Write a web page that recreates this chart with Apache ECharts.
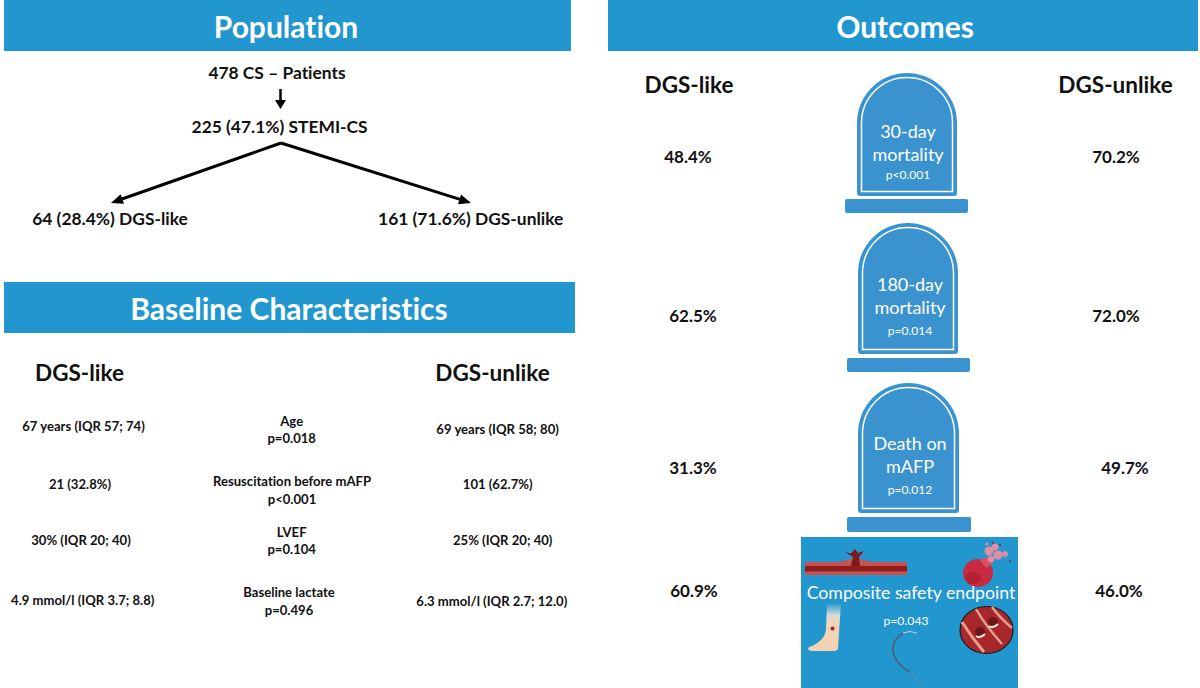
<!DOCTYPE html>
<html>
<head>
<meta charset="utf-8">
<style>html,body{margin:0;padding:0;background:#fff}#chart{width:1200px;height:688px;font-variant-ligatures:none}</style>
<script src="https://cdn.jsdelivr.net/npm/echarts@6/dist/echarts.min.js"></script>
</head>
<body>
<div id="chart"></div>
<script>
// texts
const panelTitles = ['Population', 'Baseline Characteristics', 'Outcomes']
const flowLabels = ['478 CS – Patients', '225 (47.1%) STEMI-CS', '64 (28.4%) DGS-like', '161 (71.6%) DGS-unlike']
const groupNames = ['DGS-like', 'DGS-unlike']

const baselineLike = ['67 years (IQR 57; 74)', '21 (32.8%)', '30% (IQR 20; 40)', '4.9 mmol/l (IQR 3.7; 8.8)']
const baselineVars = ['Age', 'Resuscitation before mAFP', 'LVEF', 'Baseline lactate']
const baselineP = ['p=0.018', 'p<0.001', 'p=0.104', 'p=0.496']
const baselineUnlike = ['69 years (IQR 58; 80)', '101 (62.7%)', '25% (IQR 20; 40)', '6.3 mmol/l (IQR 2.7; 12.0)']

const outcomeNames = [['30-day', 'mortality'], ['180-day', 'mortality'], ['Death on', 'mAFP']]
const outcomeP = ['p<0.001', 'p=0.014', 'p=0.012']
const outcomeLike = ['48.4%', '62.5%', '31.3%', '60.9%']
const outcomeUnlike = ['70.2%', '72.0%', '49.7%', '46.0%']
const compositeName = 'Composite safety endpoint'
const compositeP = 'p=0.043'

const BLUE = '#2196cf'
const STONE = '#3a93cf'
const FONT = 'Lato'

const chart = echarts.init(document.getElementById('chart'), null, { renderer: 'svg' })

const txt = (x, y, text, size, opt = {}) => ({
  type: 'text',
  x,
  y: y - 0.5, // svg text sits a bit low
  style: {
    text,
    fontFamily: FONT,
    fontSize: size,
    fontWeight: opt.weight || 'bold',
    fill: opt.fill || '#111',
    align: opt.align || 'center',
    verticalAlign: 'middle'
  }
})
const rect = (x, y, w, h, fill, r = 0) => ({
  type: 'rect',
  shape: { x, y, width: w, height: h, r },
  style: { fill }
})
const line = (x1, y1, x2, y2, w = 3) => ({
  type: 'line',
  shape: { x1, y1, x2, y2 },
  style: { stroke: '#000', lineWidth: w }
})
const tri = (pts) => ({ type: 'polygon', shape: { points: pts }, style: { fill: '#000' } })
const p = (d, fill, extra = {}) => ({ type: 'path', shape: { pathData: d }, style: Object.assign({ fill }, extra) })
const dot = (cx, cy, r, fill) => ({ type: 'circle', shape: { cx, cy, r }, style: { fill } })
const stroke = (d, color, w) => p(d, 'none', { stroke: color, lineWidth: w })

// grabstein mit bogen oben
const tombstone = (x0, x1, top, bottom, bx0, bx1, by0, by1) => {
  const r = (x1 - x0) / 2
  const i = 4.5
  const outer = `M${x0} ${bottom - 3} L${x0} ${top + r} A${r} ${r} 0 0 1 ${x1} ${top + r} L${x1} ${bottom - 3} Q${x1} ${bottom} ${x1 - 3} ${bottom} L${x0 + 3} ${bottom} Q${x0} ${bottom} ${x0} ${bottom - 3} Z`
  const ri = r - i
  const inner = `M${x0 + i} ${bottom - i} L${x0 + i} ${top + r} A${ri} ${ri} 0 0 1 ${x1 - i} ${top + r} L${x1 - i} ${bottom - i} Z`
  return [
    p(outer, STONE),
    p(inner, 'none', { stroke: '#fff', lineWidth: 1.5 }),
    rect(bx0, by0, bx1 - bx0, by1 - by0, STONE, 2)
  ]
}

const legFade = new echarts.graphic.LinearGradient(0, 0, 0, 1, [
  { offset: 0, color: '#2196cf' },
  { offset: 0.25, color: '#d3dcd8' },
  { offset: 0.4, color: '#f2d6bb' },
  { offset: 1, color: '#f2d2b0' }
])

const compositeIcons = () => [
  // gefaess mit blutung
  p('M805 562 L838 562 Q848 560 855 558 Q864 560 872 562 L907 562 L907 575 L805 575 Z', '#c9524f'),
  rect(805, 566, 102, 5.5, '#8e1c1c'),
  p('M851 566 L853 557 L845 552 L851 553.5 L855 549 L858 553 L864 551 L859 557 L860 566 Z', '#7c1a1a'),
  // geplatzter ballon
  { type: 'ellipse', shape: { cx: 978, cy: 573, rx: 15, ry: 14 }, style: { fill: '#c92a42' } },
  { type: 'ellipse', shape: { cx: 973, cy: 578, rx: 8, ry: 6 }, style: { fill: '#b3202f' } },
  p('M980 560 L988 557 L993 563 L986 568 Z', '#d8536a'),
  dot(989, 551, 4.5, '#e08ea0'),
  dot(995, 547, 3.5, '#e08ea0'),
  dot(998, 555, 4.5, '#e08ea0'),
  dot(991, 559, 3.5, '#e08ea0'),
  dot(1005, 554, 3, '#e08ea0'),
  dot(987, 544, 1.5, '#e08ea0'),
  dot(993, 543, 1, '#7c2a4a'),
  dot(1000, 545, 1, '#7c2a4a'),
  dot(1010, 561, 1, '#7c2a4a'),
  // bein
  p('M827 603 L841 603 L838 648 Q838 651 834 651 L812 651 Q806 650 809 647 Q824 642 826 630 Z', legFade),
  dot(832.5, 628.5, 2, '#b01f2a'),
  // draht
  stroke('M917 633 Q910 630 903 633', '#c3d3dc', 1),
  stroke('M903 633 Q890 642 894 655 Q898 666 910 672', '#4b5f6e', 1.6),
  stroke('M910 672 L923 686', '#6f93a8', 1),
  // gefaess querschnitt
  { type: 'ellipse', shape: { cx: 986.5, cy: 630, rx: 26.5, ry: 23.5 }, style: { fill: '#a8272a', stroke: '#1a1a1a', lineWidth: 1.2 } },
  stroke('M962 622 Q972 638 984 652', '#e3a08f', 3),
  stroke('M976 609 Q985 625 1002 644', '#e3a08f', 2.5),
  stroke('M992 607 Q1000 618 1012 628', '#e3a08f', 2.5),
  dot(980, 632, 5, '#6e1518'),
  dot(993, 622, 5, '#6e1518'),
  stroke('M976 636 Q980 639 985 634', '#f2e6dc', 2),
  stroke('M989 626 Q993 629 998 624', '#f2e6dc', 2)
]

const stones = [
  [857, 957, 73, 196, 845, 968, 199, 213],
  [858, 958, 223, 354, 847, 970, 358, 372],
  [858, 959, 383, 513, 847, 971, 517, 532]
]
const stoneTextX = [908, 910, 910]
const stoneTextY = [[131, 154, 175], [284, 307, 331], [443, 466, 490]]
const baseRowY = [[426, 421, 438, 429], [484, 481, 499, 484], [540, 532, 549, 540], [600, 592, 610, 601]]
const baseMidX = [291.7, 292, 291.7, 289]
const outcomeRowY = [157, 316, 468, 591]
const outcomeLikeX = [688, 693, 693, 694]
const outcomeUnlikeX = [1116, 1116, 1125, 1119]
const baseLikeX = [83.5, 80, 81, 82.7]
const baseUnlikeX = [497.6, 497.7, 502.7, 491.8]

const elements = [
  // header
  rect(4, 0, 567, 51, BLUE),
  rect(4, 282, 571, 51, BLUE),
  rect(608, 0, 590, 51, BLUE),
  txt(286, 26, panelTitles[0], 30, { fill: '#fff' }),
  txt(289, 308, panelTitles[1], 30, { fill: '#fff' }),
  txt(905, 26, panelTitles[2], 30, { fill: '#fff' }),

  // flow
  txt(277, 73, flowLabels[0], 17.4),
  txt(279.6, 127, flowLabels[1], 17.4),
  txt(110, 219, flowLabels[2], 17.4),
  txt(470.7, 219, flowLabels[3], 17.4),
  line(280.5, 89, 280.5, 102, 2.5),
  tri([[275, 100], [286, 100], [280.5, 109]]),
  line(281, 143, 122, 199),
  line(281, 143, 460, 199.4),
  tri([[111, 203], [124, 203.7], [120.6, 194.3]]),
  tri([[471, 203], [461, 194.6], [458, 204.2]]),

  // baseline table
  txt(79.5, 373, groupNames[0], 22.5),
  txt(492.5, 373, groupNames[1], 22.5),

  // outcomes
  txt(689, 85, groupNames[0], 22.5),
  txt(1115.5, 85, groupNames[1], 22.5),

  rect(801, 537, 217, 151, BLUE)
]

baselineVars.forEach((name, i) => {
  const [y, y1, y2, yu] = baseRowY[i]
  elements.push(
    txt(baseLikeX[i], y, baselineLike[i], 13.1),
    txt(baseMidX[i], y1, name, 13.1),
    txt(baseMidX[i], y2, baselineP[i], 13.1),
    txt(baseUnlikeX[i], yu, baselineUnlike[i], 13.1)
  )
})

stones.forEach((s, i) => {
  elements.push(...tombstone(...s))
  const [a, b, c] = stoneTextY[i]
  const cx = stoneTextX[i]
  elements.push(
    txt(cx, a, outcomeNames[i][0], 18, { fill: '#fff', weight: 'normal' }),
    txt(cx, b, outcomeNames[i][1], 18, { fill: '#fff', weight: 'normal' }),
    txt(cx, c, outcomeP[i], 12, { fill: '#fff', weight: 'normal' })
  )
})

outcomeRowY.forEach((y, i) => {
  elements.push(
    txt(outcomeLikeX[i], y, outcomeLike[i], 17),
    txt(outcomeUnlikeX[i], y, outcomeUnlike[i], 17)
  )
})

elements.push(...compositeIcons())
elements.push(
  txt(911, 593, compositeName, 17.7, { fill: '#fff', weight: 'normal' }),
  txt(906, 621, compositeP, 12.2, { fill: '#fff', weight: 'normal' })
)

// custom series kann pathData direkt zeichnen
chart.setOption({
  backgroundColor: '#fff',
  animation: false,
  series: [{
    type: 'custom',
    coordinateSystem: 'none',
    silent: true,
    data: [0],
    renderItem: () => ({ type: 'group', children: elements })
  }]
})
</script>
</body>
</html>
